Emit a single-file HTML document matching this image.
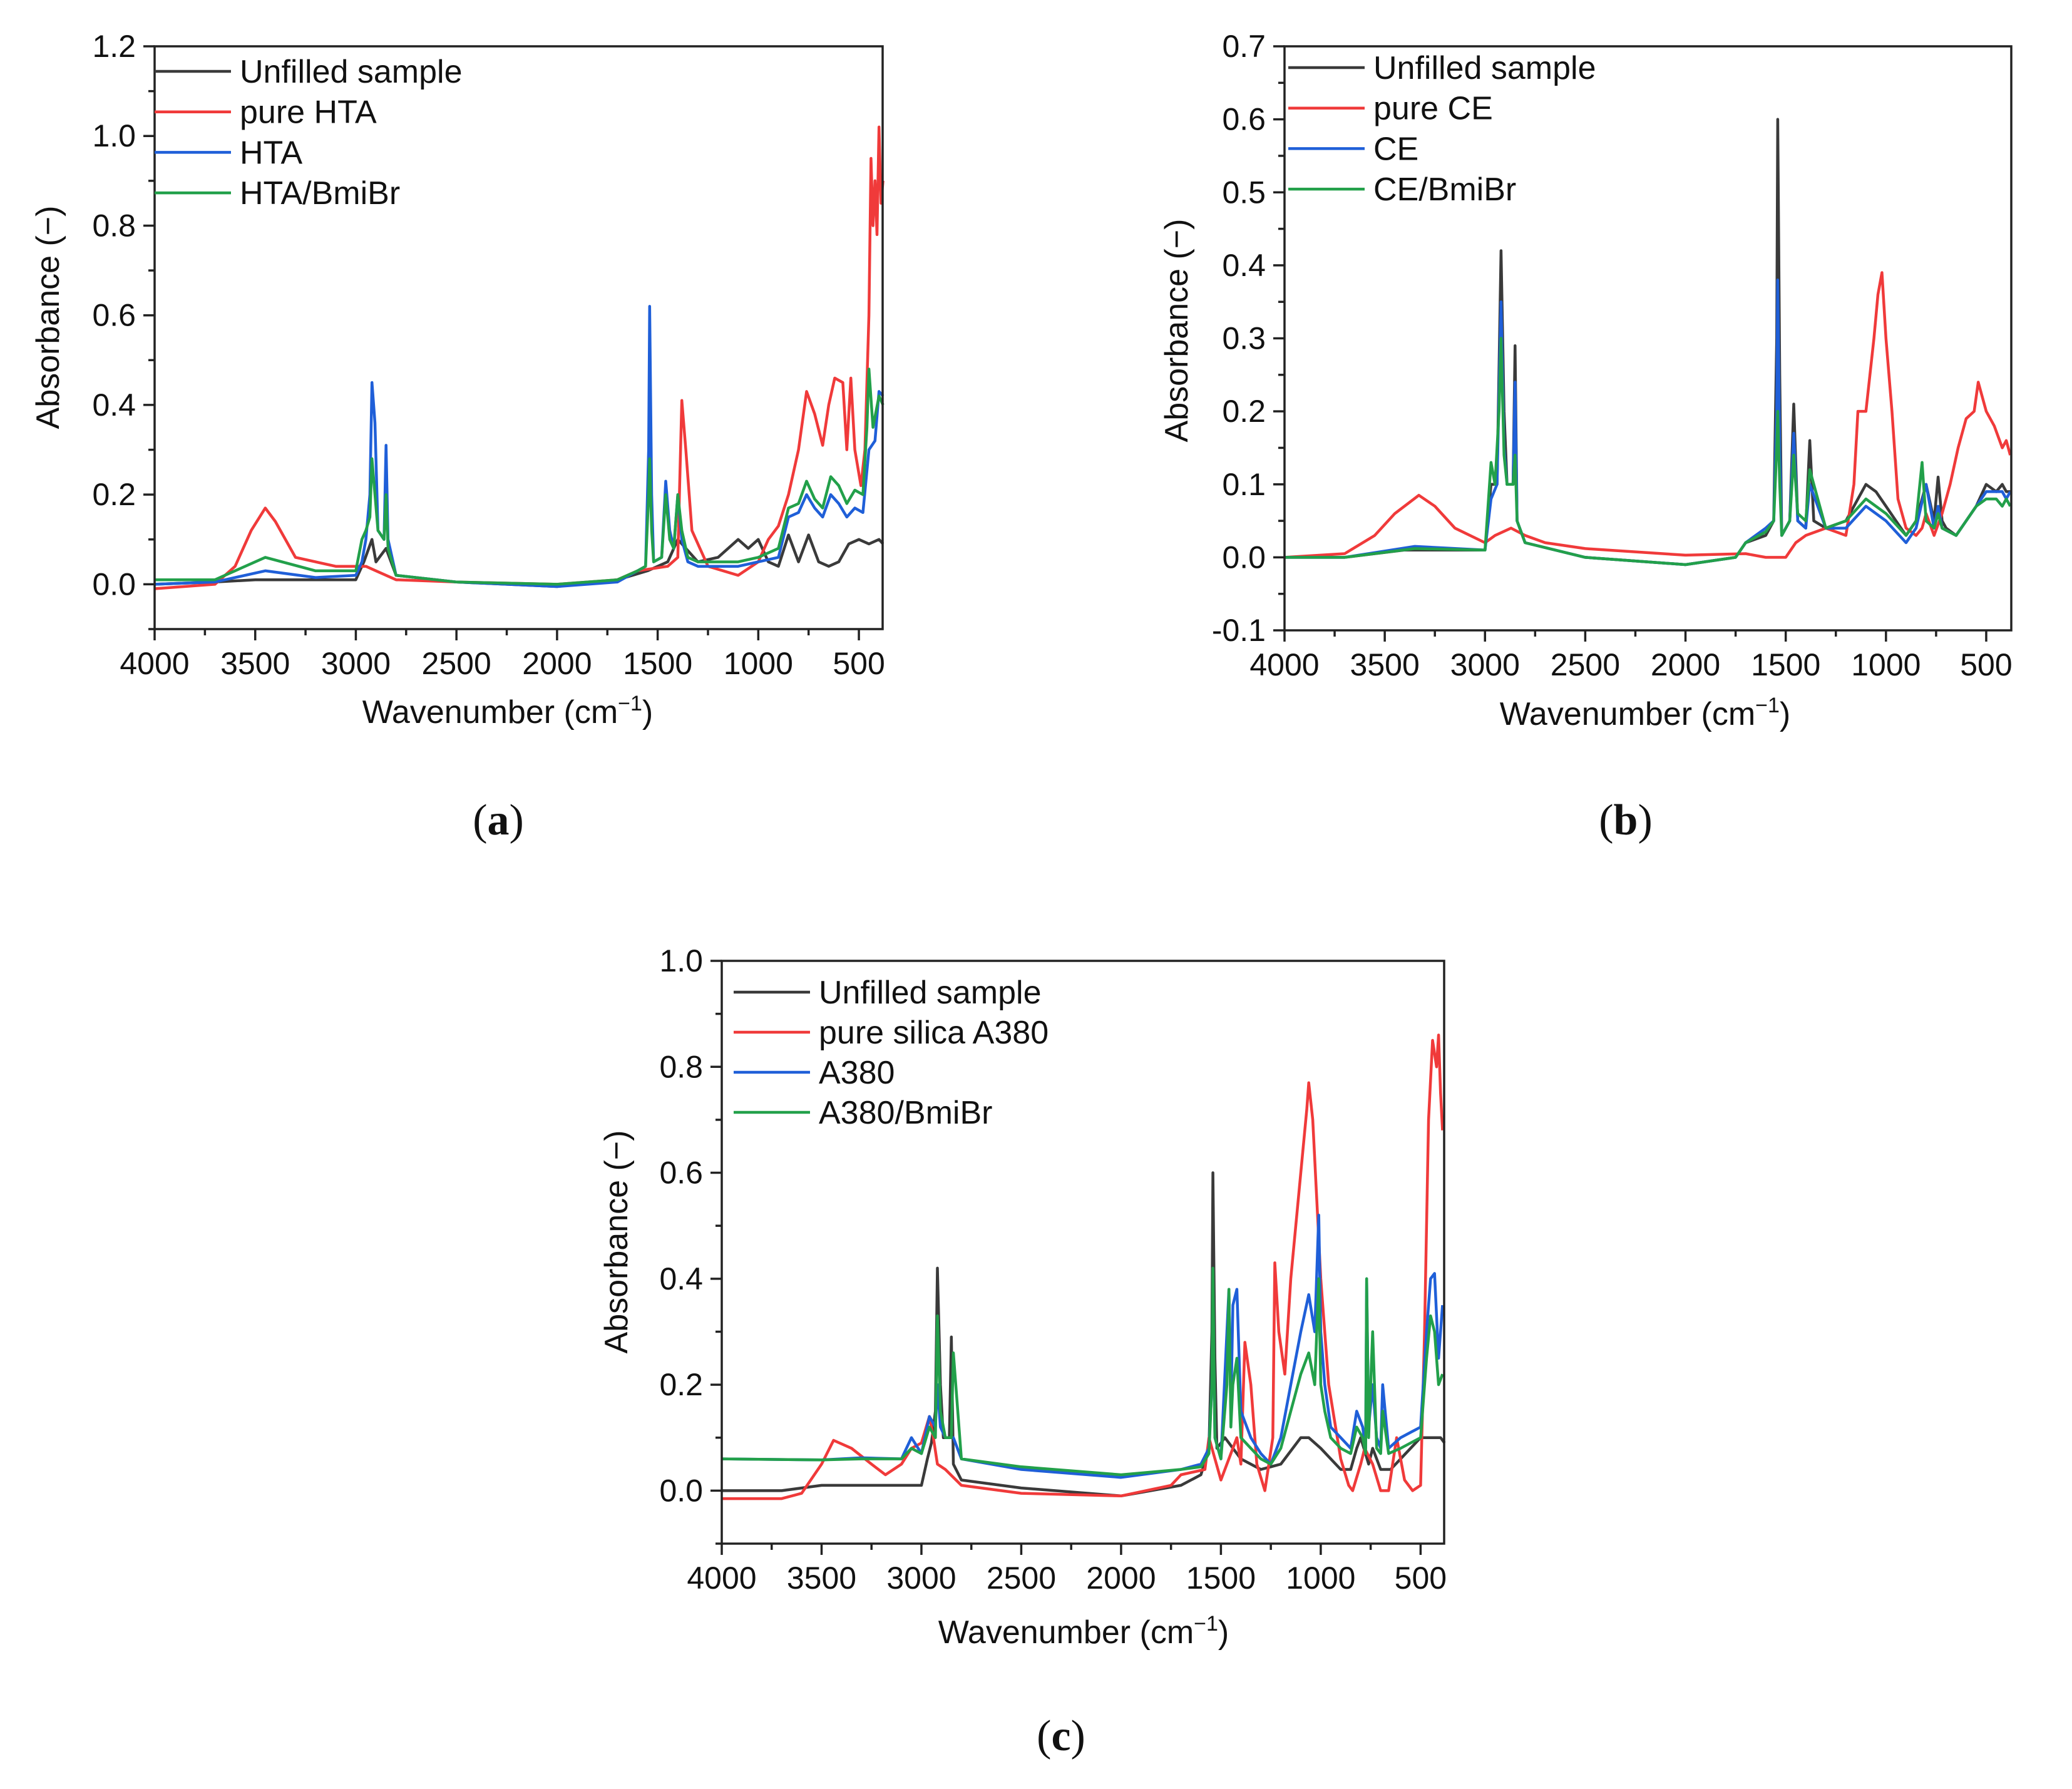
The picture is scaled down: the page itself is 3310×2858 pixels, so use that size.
<!DOCTYPE html>
<html><head><meta charset="utf-8"><style>
body{margin:0;background:#fff;}
svg{display:block;}
text{font-family:"Liberation Sans",Arial,sans-serif;fill:#111;}
.lab{font-family:"Liberation Serif",serif;}
</style></head>
<body>
<svg id="fig" width="3310" height="2858" viewBox="0 0 3310 2858" xmlns="http://www.w3.org/2000/svg">
<rect x="0" y="0" width="3310" height="2858" fill="#fff"/>
</svg>
<script>
// ---- Panel (a) data ----
const aBlackWn=[4000,3700,3500,3000,2960,2920,2900,2850,2800,2500,2000,1700,1550,1450,1400,1300,1200,1100,1050,1000,950,900,850,800,750,700,650,600,550,500,450,400,380];
const aBlackVal=[0,0.005,0.01,0.01,0.05,0.1,0.05,0.08,0.02,0.005,-0.005,0.01,0.03,0.05,0.1,0.05,0.06,0.1,0.08,0.1,0.05,0.04,0.11,0.05,0.11,0.05,0.04,0.05,0.09,0.1,0.09,0.1,0.09];
const aRedWn=[4000,3700,3600,3520,3450,3400,3300,3200,3100,3000,2950,2900,2800,2500,2000,1700,1600,1450,1400,1380,1360,1330,1250,1100,1000,950,900,850,800,760,720,680,650,620,580,560,540,520,490,470,450,440,430,420,410,400,390,380];
const aRedVal=[-0.01,0,0.04,0.12,0.17,0.14,0.06,0.05,0.04,0.04,0.04,0.03,0.01,0.005,0,0.01,0.03,0.04,0.06,0.41,0.3,0.12,0.04,0.02,0.05,0.1,0.13,0.2,0.3,0.43,0.38,0.31,0.4,0.46,0.45,0.3,0.46,0.3,0.22,0.3,0.6,0.95,0.8,0.9,0.78,1.02,0.85,0.9];
const aBlueWn=[4000,3700,3450,3200,3000,2970,2950,2930,2920,2905,2890,2860,2850,2840,2800,2500,2000,1700,1600,1560,1545,1540,1530,1520,1480,1460,1440,1420,1400,1380,1350,1300,1200,1100,1000,900,850,800,760,720,680,640,600,560,520,480,450,420,400,380];
const aBlueVal=[0,0.005,0.03,0.015,0.02,0.05,0.1,0.2,0.45,0.36,0.12,0.1,0.31,0.1,0.02,0.005,-0.005,0.005,0.03,0.04,0.3,0.62,0.2,0.05,0.06,0.23,0.12,0.08,0.2,0.1,0.05,0.04,0.04,0.04,0.05,0.06,0.15,0.16,0.2,0.17,0.15,0.2,0.18,0.15,0.17,0.16,0.3,0.32,0.43,0.42];
const aGreenWn=[4000,3700,3450,3200,3000,2970,2950,2930,2920,2905,2890,2860,2850,2840,2800,2500,2000,1700,1600,1560,1545,1540,1530,1520,1480,1460,1440,1420,1400,1380,1350,1300,1200,1100,1000,900,850,800,760,720,680,640,600,560,520,480,460,450,430,400,380];
const aGreenVal=[0.01,0.01,0.06,0.03,0.03,0.1,0.12,0.15,0.28,0.2,0.12,0.1,0.2,0.08,0.02,0.005,0,0.01,0.03,0.04,0.2,0.28,0.12,0.05,0.06,0.2,0.1,0.08,0.2,0.12,0.06,0.05,0.05,0.05,0.06,0.08,0.17,0.18,0.23,0.19,0.17,0.24,0.22,0.18,0.21,0.2,0.35,0.48,0.35,0.42,0.4];
// ---- Panel (b) data ----
const bBlackWn=[4000,3700,3400,3000,2970,2940,2920,2905,2890,2860,2850,2840,2800,2500,2000,1750,1700,1600,1560,1545,1540,1530,1520,1480,1460,1440,1400,1380,1360,1300,1200,1100,1050,1000,950,900,850,800,760,740,720,700,650,600,550,500,450,420,400,380];
const bBlackVal=[0,0,0.01,0.01,0.1,0.1,0.42,0.2,0.1,0.1,0.29,0.05,0.02,0,-0.01,0,0.02,0.03,0.05,0.3,0.6,0.25,0.03,0.05,0.21,0.05,0.04,0.16,0.05,0.04,0.05,0.1,0.09,0.07,0.05,0.03,0.05,0.1,0.05,0.11,0.05,0.04,0.03,0.05,0.07,0.1,0.09,0.1,0.09,0.09];
const bRedWn=[4000,3700,3550,3450,3330,3250,3150,3000,2950,2870,2800,2700,2500,2000,1700,1600,1500,1450,1400,1300,1200,1160,1140,1100,1060,1040,1020,1000,970,940,900,850,820,800,760,720,680,640,600,560,540,500,460,420,400,380];
const bRedVal=[0,0.005,0.03,0.06,0.085,0.07,0.04,0.02,0.03,0.04,0.03,0.02,0.012,0.003,0.005,0.0,0.0,0.02,0.03,0.04,0.03,0.1,0.2,0.2,0.3,0.36,0.39,0.3,0.2,0.08,0.04,0.03,0.04,0.06,0.03,0.06,0.1,0.15,0.19,0.2,0.24,0.2,0.18,0.15,0.16,0.14];
const bBlueWn=[4000,3700,3350,3000,2970,2940,2920,2905,2890,2860,2850,2840,2800,2500,2000,1750,1700,1600,1560,1545,1540,1530,1520,1480,1460,1440,1400,1380,1300,1200,1100,1000,900,850,800,760,740,720,650,600,550,500,450,420,400,380];
const bBlueVal=[0,0,0.015,0.01,0.08,0.1,0.35,0.15,0.1,0.1,0.24,0.05,0.02,0,-0.01,0,0.02,0.04,0.05,0.2,0.38,0.15,0.03,0.05,0.17,0.05,0.04,0.1,0.04,0.04,0.07,0.05,0.02,0.04,0.1,0.04,0.07,0.04,0.03,0.05,0.07,0.09,0.09,0.09,0.08,0.09];
const bGreenWn=[4000,3700,3350,3000,2970,2950,2930,2920,2905,2890,2860,2850,2840,2800,2500,2000,1750,1700,1600,1560,1545,1540,1530,1520,1480,1460,1440,1400,1380,1300,1200,1100,1000,900,850,820,800,760,740,720,650,600,550,500,450,420,400,380];
const bGreenVal=[0,0,0.012,0.01,0.13,0.1,0.2,0.3,0.14,0.1,0.1,0.14,0.05,0.02,0,-0.01,0,0.02,0.035,0.05,0.15,0.2,0.1,0.03,0.05,0.14,0.06,0.05,0.12,0.04,0.05,0.08,0.06,0.03,0.05,0.13,0.05,0.04,0.06,0.04,0.03,0.05,0.07,0.08,0.08,0.07,0.08,0.07];
// ---- Panel (c) data ----
const cBlackWn=[4000,3700,3500,3000,2970,2950,2930,2920,2905,2890,2860,2850,2840,2800,2500,2000,1700,1600,1560,1545,1540,1530,1520,1480,1400,1300,1200,1100,1060,1000,950,900,850,820,800,760,740,700,650,600,550,500,450,420,400,380];
const cBlackVal=[0,0,0.01,0.01,0.06,0.09,0.15,0.42,0.2,0.1,0.1,0.29,0.05,0.02,0.005,-0.01,0.01,0.03,0.08,0.3,0.6,0.25,0.08,0.1,0.06,0.04,0.05,0.1,0.1,0.08,0.06,0.04,0.04,0.08,0.1,0.05,0.08,0.04,0.04,0.06,0.08,0.1,0.1,0.1,0.1,0.09];
const cRedWn=[4000,3700,3600,3500,3440,3350,3250,3180,3100,3050,3000,2960,2940,2920,2880,2800,2500,2000,1750,1700,1580,1560,1500,1420,1400,1380,1350,1320,1280,1240,1230,1210,1180,1150,1100,1070,1060,1040,1000,960,900,860,840,800,780,740,700,660,620,580,540,500,480,460,440,420,410,400,390];
const cRedVal=[-0.015,-0.015,-0.005,0.05,0.095,0.08,0.05,0.03,0.05,0.08,0.09,0.14,0.1,0.05,0.04,0.01,-0.005,-0.01,0.01,0.03,0.04,0.1,0.02,0.1,0.05,0.28,0.2,0.05,0.0,0.1,0.43,0.3,0.22,0.4,0.6,0.72,0.77,0.7,0.4,0.2,0.06,0.01,0.0,0.05,0.08,0.05,0.0,0.0,0.1,0.02,0.0,0.01,0.3,0.7,0.85,0.8,0.86,0.75,0.68];
const cBlueWn=[4000,3500,3300,3100,3050,3000,2960,2930,2920,2905,2880,2850,2840,2800,2500,2000,1700,1600,1560,1545,1540,1530,1500,1470,1460,1450,1440,1420,1400,1350,1300,1250,1200,1150,1100,1060,1030,1010,1000,980,950,900,850,820,790,775,770,760,740,720,700,690,660,600,550,500,470,450,430,410,390];
const cBlueVal=[0.06,0.058,0.062,0.06,0.1,0.07,0.14,0.12,0.2,0.12,0.1,0.1,0.1,0.06,0.04,0.025,0.04,0.05,0.08,0.2,0.38,0.1,0.06,0.3,0.38,0.15,0.35,0.38,0.15,0.1,0.07,0.05,0.1,0.2,0.3,0.37,0.3,0.52,0.3,0.2,0.12,0.1,0.08,0.15,0.12,0.08,0.4,0.12,0.2,0.1,0.08,0.2,0.08,0.1,0.11,0.12,0.3,0.4,0.41,0.25,0.35];
const cGreenWn=[4000,3500,3300,3100,3050,3000,2960,2930,2920,2905,2880,2850,2840,2800,2500,2000,1700,1600,1560,1545,1540,1530,1500,1470,1460,1450,1440,1420,1400,1350,1300,1250,1200,1150,1100,1060,1030,1010,1000,980,950,900,850,820,790,775,770,760,740,720,700,690,660,600,550,500,470,450,430,410,390];
const cGreenVal=[0.06,0.058,0.06,0.06,0.08,0.07,0.12,0.1,0.33,0.15,0.1,0.1,0.26,0.06,0.045,0.03,0.04,0.045,0.07,0.2,0.42,0.1,0.06,0.2,0.38,0.12,0.2,0.25,0.1,0.08,0.06,0.05,0.08,0.15,0.22,0.26,0.2,0.4,0.2,0.15,0.1,0.08,0.07,0.12,0.1,0.07,0.4,0.1,0.3,0.08,0.07,0.15,0.07,0.08,0.09,0.1,0.25,0.33,0.3,0.2,0.22];

const COLORS={black:'#3a3a3a',red:'#f03a3a',blue:'#1f5fd8',green:'#22a04a'};
const NS='http://www.w3.org/2000/svg';
const fig=document.getElementById('fig');
function mk(tag,attrs,parent){const e=document.createElementNS(NS,tag);for(const k in attrs)e.setAttribute(k,attrs[k]);(parent||fig).appendChild(e);return e;}

function panel(p){
  const g=mk('g',{});
  
  
  const xs=v=>p.L+(p.xmax-v)/(p.xmax-p.xmin)*(p.R-p.L);
  const ys=v=>p.B-(v-p.ymin)/(p.ymax-p.ymin)*(p.B-p.T);
  p.series.forEach(s=>{
    let d='';
    s.wn.forEach((w,i)=>{d+=(i?'L':'M')+xs(w).toFixed(1)+','+ys(s.val[i]).toFixed(1);});
    const pa=mk('path',{d:d,fill:'none',stroke:COLORS[s.c],'stroke-width':4.5,'stroke-linejoin':'round'},g);
    
    
  });
  const fr=mk('rect',{x:p.L,y:p.T,width:p.R-p.L,height:p.B-p.T,fill:'none',stroke:'#222','stroke-width':3.5},g);
  
  
  for(let v=4000;v>=p.xmin;v-=250){
    const X=xs(v);const major=v%500===0;
    mk('line',{x1:X,y1:p.B,x2:X,y2:p.B+(major?18:10),stroke:'#222','stroke-width':3.5},g);
    if(major){const t=mk('text',{x:X,y:p.B+72,'font-size':50,'text-anchor':'middle'},g);t.textContent=v;
      
      }
  }
  const half=p.ystep/2;
  const n=Math.round((p.ymax-p.ymin)/half);
  for(let i=0;i<=n;i++){
    const v=p.ymin+i*half;const Y=ys(v);
    const r=v/p.ystep;const major=Math.abs(r-Math.round(r))<1e-6;
    mk('line',{x1:p.L,y1:Y,x2:p.L-(major?18:10),y2:Y,stroke:'#222','stroke-width':3.5},g);
    if(major){const t=mk('text',{x:p.L-30,y:Y+17,'font-size':50,'text-anchor':'end'},g);t.textContent=(Math.abs(v)<1e-9?0:v).toFixed(1);
      
      }
  }
  const xt=mk('text',{x:p.xtx,y:p.xty,'font-size':52,'text-anchor':'middle'},g);
  xt.innerHTML='Wavenumber (cm<tspan dy="-20" font-size="34">−1</tspan><tspan dy="20">)</tspan>';
  
  
  const yt=mk('text',{x:0,y:0,'font-size':52,'text-anchor':'middle',transform:`translate(${p.ytx},${p.yty}) rotate(-90)`},g);
  yt.textContent='Absorbance (−)';
  
  
  p.series.forEach((s,i)=>{
    const Y=p.legY+i*p.legDy;
    const ln=mk('line',{x1:p.legX,y1:Y,x2:p.legX+122,y2:Y,stroke:COLORS[s.c],'stroke-width':4.5},g);
    
    
    const t=mk('text',{x:p.legX+136,y:Y+18,'font-size':52},g);t.textContent=s.label;
    
    
  });
  const lb=mk('text',{x:p.labX,y:p.labY,'font-size':70,'text-anchor':'middle',class:'lab'},g);
  lb.innerHTML='(<tspan font-weight="bold">'+p.lab+'</tspan>)';
  
  
}

panel({name:'panel-a',L:247,R:1410,T:74,B:1005,xmin:382,xmax:4000,ymin:-0.1,ymax:1.2,ystep:0.2,
  xtx:811,xty:1155,ytx:94,yty:507,legX:247,legY:114,legDy:64.7,labX:796,labY:1333,lab:'a',
  series:[{id:'series-unfilled',c:'black',label:'Unfilled sample',wn:aBlackWn,val:aBlackVal},
          {id:'series-pure-hta',c:'red',label:'pure HTA',wn:aRedWn,val:aRedVal},
          {id:'series-hta',c:'blue',label:'HTA',wn:aBlueWn,val:aBlueVal},
          {id:'series-hta-bmibr',c:'green',label:'HTA/BmiBr',wn:aGreenWn,val:aGreenVal}]});
panel({name:'panel-b',L:2052,R:3213,T:74,B:1007,xmin:375,xmax:4000,ymin:-0.1,ymax:0.7,ystep:0.1,
  xtx:2628,xty:1158,ytx:1897,yty:528,legX:2058,legY:108,legDy:64.7,labX:2597,labY:1333,lab:'b',
  series:[{id:'series-unfilled',c:'black',label:'Unfilled sample',wn:bBlackWn,val:bBlackVal},
          {id:'series-pure-ce',c:'red',label:'pure CE',wn:bRedWn,val:bRedVal},
          {id:'series-ce',c:'blue',label:'CE',wn:bBlueWn,val:bBlueVal},
          {id:'series-ce-bmibr',c:'green',label:'CE/BmiBr',wn:bGreenWn,val:bGreenVal}]});
panel({name:'panel-c',L:1153,R:2307,T:1535,B:2466,xmin:382,xmax:4000,ymin:-0.1,ymax:1.0,ystep:0.2,
  xtx:1731,xty:2625,ytx:1002,yty:1984,legX:1172,legY:1585,legDy:64,labX:1695,labY:2796,lab:'c',
  series:[{id:'series-unfilled',c:'black',label:'Unfilled sample',wn:cBlackWn,val:cBlackVal},
          {id:'series-pure-silica',c:'red',label:'pure silica A380',wn:cRedWn,val:cRedVal},
          {id:'series-a380',c:'blue',label:'A380',wn:cBlueWn,val:cBlueVal},
          {id:'series-a380-bmibr',c:'green',label:'A380/BmiBr',wn:cGreenWn,val:cGreenVal}]});
</script>
</body></html>
